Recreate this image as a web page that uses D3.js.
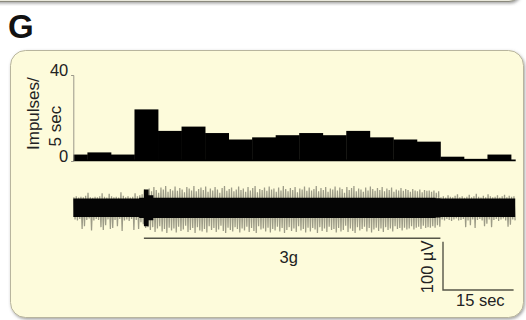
<!DOCTYPE html>
<html>
<head>
<meta charset="utf-8">
<script src="https://cdn.jsdelivr.net/npm/d3@7"></script>
<style>
  html, body { margin: 0; padding: 0; background: #ffffff; }
  svg { display: block; font-family: Arial, "Liberation Sans", sans-serif; }
</style>
</head>
<body>
<svg id="chart" width="526" height="320"></svg>
<script>
// ---- Data -------------------------------------------------------------
// Peristimulus histogram: bin edges (s) and impulse counts per bin
const binEdgesSec = [0, 3, 8, 13, 18, 23, 28, 33, 38, 43, 48, 53, 58, 63, 68, 73, 78, 83, 88, 93, 94];
const impulsesPerBin = [3, 4, 3, 24, 14, 16, 13, 10, 11, 12, 13, 12, 14, 11, 10, 9, 2, 1, 3, 0];
const rateTicks = [0, 40];
const rateLabelLines = ["Impulses/", "5 sec"];

// Stimulus period (s) and its label
const stimulusSec = [15, 78];
const stimulusLabel = "3g";

// Raw nerve recording, largest upward / downward excursion per 0.5 s (µV)
const swingStepSec = 0.5;
const traceUpUV = [
  // before stimulus
  22, 24, 21, 23, 22, 25, 31, 22, 21, 23, 22, 24, 30, 23, 21,
  29, 24, 22, 23, 21, 32, 25, 22, 24, 21, 23, 30, 24, 26, 28,
  // onset burst
  38, 36,
  // during stimulus
  40, 34, 43, 37, 31, 42, 38, 45, 33, 39,
  36, 44, 35, 41, 38, 32, 43, 40, 36, 45,
  34, 39, 42, 37, 44, 33, 40, 36, 43, 38,
  31, 41, 45, 35, 39, 42, 34, 38, 44, 37,
  40, 33, 43, 36, 41, 45, 32, 39, 37, 42,
  35, 44, 38, 40, 33, 42, 36, 45, 39, 34,
  41, 37, 43, 32, 40, 38, 44, 35, 42, 36,
  39, 45, 34, 41, 37, 43, 33, 40, 38, 44,
  36, 42, 39, 31, 43, 37, 41, 45, 34, 40,
  38, 33, 42, 36, 44, 39, 35, 41, 37, 43,
  34, 40, 37, 42, 33, 38, 36, 41, 35, 39,
  37, 33, 39, 36, 34, 38, 32, 37, 35, 36,
  33, 36, 31, 34,
  // after stimulus
  22, 24, 21, 26, 23, 22, 25, 28, 22, 24, 21, 23, 27, 22, 24, 29,
  23, 21, 25, 22, 28, 24, 22, 23, 26, 21, 24, 27, 22, 25, 23, 24
];
const traceDownUV = [
  // before stimulus
  24, 26, 23, 44, 38, 25, 22, 47, 26, 23, 25, 40, 46, 36, 24,
  44, 42, 25, 38, 23, 48, 26, 24, 27, 23, 46, 25, 44, 30, 34,
  // onset burst
  42, 40,
  // during stimulus
  46, 40, 50, 43, 38, 49, 44, 52, 41, 47,
  43, 51, 39, 48, 45, 37, 50, 46, 42, 52,
  40, 47, 49, 44, 51, 38, 46, 42, 50, 45,
  37, 48, 52, 41, 46, 49, 40, 44, 51, 43,
  47, 39, 50, 42, 48, 52, 38, 45, 43, 49,
  41, 51, 44, 47, 39, 49, 42, 52, 46, 40,
  48, 43, 50, 38, 47, 44, 51, 41, 49, 42,
  45, 52, 40, 48, 43, 50, 39, 46, 44, 51,
  42, 49, 46, 37, 50, 43, 48, 52, 40, 47,
  44, 39, 49, 42, 51, 45, 41, 48, 43, 50,
  40, 46, 43, 49, 38, 44, 42, 47, 41, 45,
  43, 38, 45, 41, 39, 44, 37, 42, 40, 41,
  38, 41, 36, 39,
  // after stimulus
  24, 26, 23, 25, 27, 24, 22, 26, 25, 23, 40, 26, 36, 24, 42, 25,
  23, 26, 38, 33, 24, 40, 25, 23, 27, 24, 22, 26, 39, 35, 24, 26
];

// Dense core of the recording, half-width per second (µV)
const traceCoreUV = [
  19, 19, 19, 19, 19, 19, 19, 19, 19, 19, 19, 19, 19, 19, 21,
  38,
  26, 21, 21, 21, 21, 21, 21, 21, 21, 21,
  21, 21, 21, 21, 21, 21, 21, 21, 21, 21,
  21, 21, 21, 21, 21, 21, 21, 21, 21, 21,
  21, 21, 21, 21, 21, 21, 21, 21, 21, 21,
  21, 21, 21, 21, 21, 21, 21, 21, 21, 21,
  21, 21, 21, 21, 21, 21, 21, 21, 21, 21,
  21, 20,
  19, 19, 19, 19, 19, 19, 19, 19, 19, 19, 19, 19, 19, 19, 19, 19
];

// Calibration bars
const scaleBarUV = 100;
const scaleBarSec = 15;
const scaleBarLabels = ["100 µV", "15 sec"];
const panelLetter = "G";

// ---- Layout -----------------------------------------------------------
const svg = d3.select("#chart");
const ink = "#222";
const fontSize = 16.5;

const defs = svg.append("defs");
const shadow = defs.append("filter").attr("id", "panelShadow")
  .attr("x", "-5%").attr("y", "-5%").attr("width", "110%").attr("height", "115%");
shadow.append("feDropShadow").attr("dx", 1).attr("dy", 1.5)
  .attr("stdDeviation", 1.4).attr("flood-color", "#555").attr("flood-opacity", 0.55);

// Edge of the neighbouring panel above
svg.append("rect")
  .attr("x", -20).attr("y", -40).attr("width", 541).attr("height", 41.5)
  .attr("rx", 12)
  .attr("fill", "#e9e8db").attr("stroke", "#8b8a7e").attr("stroke-width", 1)
  .attr("filter", "url(#panelShadow)");

// Panel letter
svg.append("text")
  .attr("x", 8).attr("y", 37.5)
  .attr("font-size", 33).attr("font-weight", "bold").attr("fill", "#111")
  .text(panelLetter);

// Panel background
svg.append("rect")
  .attr("x", 10.5).attr("y", 50.5).attr("width", 513).attr("height", 267)
  .attr("rx", 15)
  .attr("fill", "#fdfbdb").attr("stroke", "#b8b59e").attr("stroke-width", 1)
  .attr("filter", "url(#panelShadow)");

// ---- Scales -----------------------------------------------------------
const x = d3.scaleLinear()
  .domain([binEdgesSec[0], binEdgesSec[binEdgesSec.length - 1]])
  .range([73.3, 515.7]);
const yRate = d3.scaleLinear().domain([0, 40]).range([161, 75]);
const yTrace = d3.scaleLinear().domain([-60, 60]).range([236.8, 178.8]);

// ---- Histogram --------------------------------------------------------
const bins = impulsesPerBin.map((v, i) => ({ x0: binEdgesSec[i], x1: binEdgesSec[i + 1], v }));
const hist = svg.append("g");
hist.selectAll("rect").data(bins).join("rect")
  .attr("x", d => x(d.x0))
  .attr("width", d => x(d.x1) - x(d.x0) + 0.4)
  .attr("y", d => yRate(d.v))
  .attr("height", d => yRate(0) - yRate(d.v))
  .attr("fill", "#000");
hist.append("line")
  .attr("x1", x(binEdgesSec[0])).attr("x2", x(binEdgesSec[binEdgesSec.length - 1]))
  .attr("y1", yRate(0) - 0.6).attr("y2", yRate(0) - 0.6)
  .attr("stroke", "#000").attr("stroke-width", 1.6);

// Rate axis
const axis = svg.append("g")
  .attr("transform", `translate(${x(0)},0)`)
  .call(d3.axisLeft(yRate).tickValues(rateTicks).tickSize(2).tickPadding(3));
axis.select(".domain").attr("stroke", "#9a988a").attr("stroke-width", 1);
axis.selectAll(".tick line").attr("stroke", "#9a988a");
axis.selectAll(".tick text")
  .attr("font-size", fontSize).attr("font-family", "Arial, 'Liberation Sans', sans-serif")
  .attr("fill", ink).attr("dy", 0);

const rateLabel = svg.append("text")
  .attr("transform", "translate(38.5,150) rotate(-90)")
  .attr("font-size", 17).attr("fill", ink);
rateLabel.append("tspan").attr("x", 0).attr("y", 0).text(rateLabelLines[0]);
rateLabel.append("tspan").attr("x", 3.5).attr("y", 22).text(rateLabelLines[1]);

// ---- Nerve trace ------------------------------------------------------
const trace = svg.append("g");
// Fast deflections: each interval swings from its peak to its trough
const swings = traceUpUV.flatMap((u, i) => [
  { t: (i + 0.25) * swingStepSec, v: u },
  { t: (i + 0.75) * swingStepSec, v: -traceDownUV[i] }
]);
trace.append("path")
  .datum(swings)
  .attr("d", d3.line().x(d => x(d.t)).y(d => yTrace(d.v)))
  .attr("fill", "none")
  .attr("stroke", "#9c9b87").attr("stroke-width", 1.25).attr("stroke-linejoin", "miter");
// Dense core
const core = traceCoreUV.map((c, i) => ({ t: i, c }));
core.push({ t: traceCoreUV.length - 0.1, c: traceCoreUV[traceCoreUV.length - 1] });
trace.append("path")
  .datum(core)
  .attr("d", d3.area()
    .x(d => x(d.t))
    .y0(d => yTrace(-d.c))
    .y1(d => yTrace(d.c))
    .curve(d3.curveStepAfter))
  .attr("fill", "#050505");

// ---- Stimulus bar -----------------------------------------------------
svg.append("line")
  .attr("x1", x(stimulusSec[0])).attr("x2", x(stimulusSec[1]))
  .attr("y1", 238.3).attr("y2", 238.3)
  .attr("stroke", "#555548").attr("stroke-width", 1.4);
svg.append("text")
  .attr("x", 279.5).attr("y", 263)
  .attr("font-size", fontSize).attr("fill", ink)
  .text(stimulusLabel);

// ---- Calibration bars -------------------------------------------------
const sbX = 443, sbY = 290;
const sbH = yTrace(0) - yTrace(scaleBarUV);
const sbW = x(scaleBarSec) - x(0);
svg.append("path")
  .attr("d", `M${sbX},${sbY - sbH}V${sbY}H${sbX + sbW}`)
  .attr("fill", "none").attr("stroke", "#555548").attr("stroke-width", 1.4);
svg.append("text")
  .attr("transform", `translate(${sbX - 10},${sbY - sbH / 2 + 1}) rotate(-90)`)
  .attr("text-anchor", "middle")
  .attr("font-size", fontSize).attr("fill", ink)
  .text(scaleBarLabels[0]);
svg.append("text")
  .attr("x", sbX + sbW / 2 + 2).attr("y", sbY + 15.5)
  .attr("text-anchor", "middle")
  .attr("font-size", fontSize).attr("fill", ink)
  .text(scaleBarLabels[1]);
</script>
</body>
</html>
